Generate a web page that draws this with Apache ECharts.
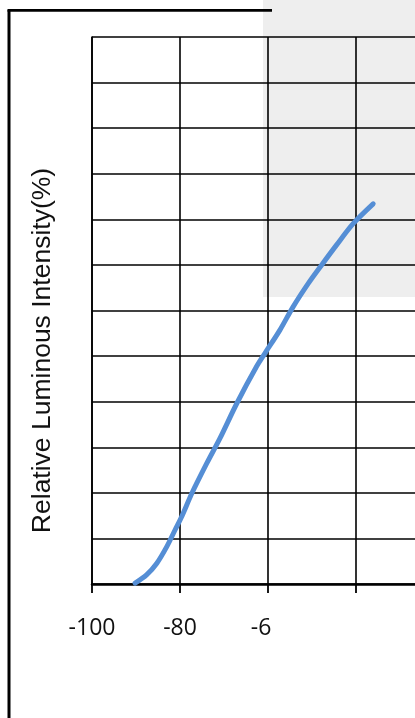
<!DOCTYPE html>
<html>
<head>
<meta charset="utf-8">
<script src="https://cdn.jsdelivr.net/npm/echarts@6/dist/echarts.min.js"></script>
<style>
html,body{margin:0;padding:0;background:#fff;}
#c{width:415px;height:718px;}
</style>
</head>
<body>
<div id="c"></div>
<script>
var xValues = [-90.2, -87.6, -85.3, -83.0, -81.1, -79.6, -77.3, -73.9, -70.9, -67.1, -62.6, -60.7, -57.3, -54.3, -50.8, -47.8, -44.4, -40.6, -36.1];
var yValues = [0.2, 2.0, 4.5, 8.2, 11.9, 14.8, 19.9, 26.5, 32.0, 39.6, 47.7, 50.6, 55.7, 60.8, 66.0, 70.0, 74.4, 79.1, 83.4];
var xTickValues = [-100, -80, -60, -40, -20];
var xTickLabels = ['-100', '-80', '-6', '', ''];
var yAxisTitle = 'Relative Luminous Intensity(%)';

var seriesData = xValues.map(function (x, i) { return [x, yValues[i]]; });

var chart = echarts.init(document.getElementById('c'), null, {renderer: 'canvas'});
chart.setOption({
  animation: false,
  backgroundColor: '#ffffff',
  grid: {left: 92, top: 37, right: -29, bottom: 134, containLabel: false, outerBoundsMode: 'none'},
  graphic: [
    {type: 'rect', z: -10, silent: true, shape: {x: 263, y: 0, width: 152, height: 297}, style: {fill: '#eeeeee'}},
    {type: 'line', z: 10, silent: true, shape: {x1: 9, y1: 10, x2: 9, y2: 718}, style: {stroke: '#000', lineWidth: 3}},
    {type: 'line', z: 10, silent: true, shape: {x1: 7.5, y1: 10.3, x2: 272, y2: 10.3}, style: {stroke: '#000', lineWidth: 2.8}}
  ],
  xAxis: {
    type: 'value', min: -100, max: -20, interval: 20,
    axisLine: {show: true, onZero: false, lineStyle: {color: '#000', width: 2.5}},
    axisTick: {show: true, length: 9, lineStyle: {color: '#000', width: 1.8}},
    splitLine: {show: true, lineStyle: {color: '#000', width: 1.6}},
    axisLabel: {
      margin: 33,
      fontFamily: 'Open Sans', fontSize: 23, color: '#111',
      formatter: function (v) {
        var i = xTickValues.indexOf(v);
        var t = i >= 0 ? xTickLabels[i] : '';
        if (t === '-6') return '{s|' + t + '}';
        return t;
      },
      rich: {s: {fontFamily: 'Open Sans', fontSize: 23, color: '#111', padding: [0, 14, 0, 0]}}
    }
  },
  yAxis: {
    type: 'value', min: 0, max: 120, interval: 10,
    name: yAxisTitle, nameLocation: 'middle', nameGap: 36,
    nameTextStyle: {fontFamily: 'Liberation Sans', fontSize: 26.5, color: '#111', padding: [0, 80, 0, 0]},
    axisLine: {show: true, lineStyle: {color: '#000', width: 1.6}},
    axisTick: {show: false},
    axisLabel: {show: false},
    splitLine: {show: true, lineStyle: {color: '#000', width: 1.6}}
  },
  series: [{
    type: 'line', data: seriesData, smooth: 0.3, showSymbol: false, symbol: 'none',
    lineStyle: {color: '#558ed5', width: 5, cap: 'round'},
    z: 5
  }]
});
</script>
</body>
</html>
